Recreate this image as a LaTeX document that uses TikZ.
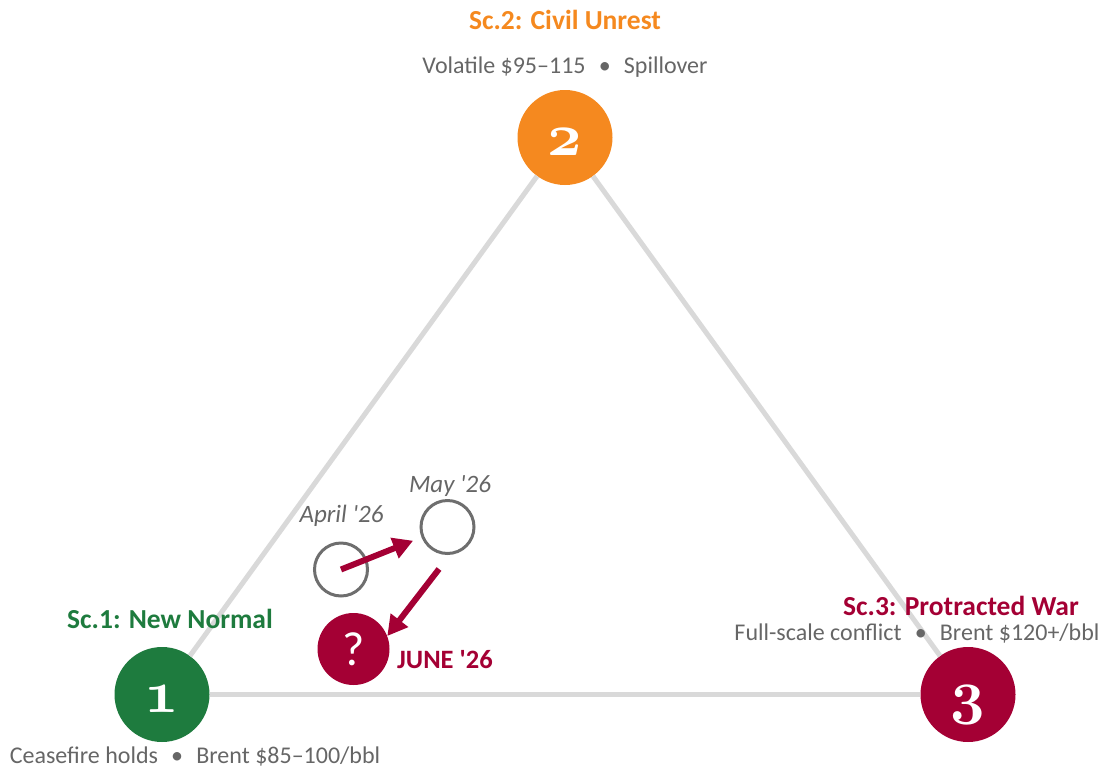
\documentclass[tikz,border=0pt]{standalone}
\usepackage{fontspec}
\setmainfont{Carlito}
\usetikzlibrary{arrows.meta}

% scenario colours
\definecolor{scgreen}{RGB}{30,123,62}
\definecolor{scorange}{RGB}{245,137,31}
\definecolor{sccrimson}{RGB}{164,0,52}
\definecolor{txtgray}{RGB}{102,102,102}
\definecolor{edgegray}{RGB}{217,217,217}
\definecolor{ringgray}{RGB}{110,110,110}

% old-style bold figures for the scenario numbers
\font\bignumfont=cmmib10 at 60pt
\newcommand\sepdot{\hspace{0.55em}\textbullet\hspace{0.55em}}
\newcommand\yr[1]{\textquotesingle#1}

\tikzset{
  scen/.style={circle, minimum size=95pt, inner sep=0pt, text=white,
    font=\bignumfont, text height=35pt, text depth=0pt},
  ring/.style={circle, minimum size=53pt, inner sep=0pt, draw=ringgray, line width=3pt},
  edgeline/.style={draw=edgegray, line width=5pt},
  title/.style={anchor=base, font=\fontsize{27.5}{31}\selectfont\bfseries, inner sep=0pt},
  sub/.style={anchor=base, font=\fontsize{24}{28}\selectfont, text=txtgray, inner sep=0pt},
  month/.style={anchor=base, font=\fontsize{25}{29}\selectfont\itshape, text=txtgray, inner sep=0pt},
  move/.style={draw=sccrimson, line width=6pt, -{Triangle[length=20pt,width=21pt]}}
}

\begin{document}
\begin{tikzpicture}[x=1pt,y=-1pt]
  \useasboundingbox (0,0) rectangle (1102,771);

  % scenario corners
  \node[scen, fill=scgreen]  (s1) at (162,694.5) {1};
  \node[scen, fill=scorange] (s2) at (565,137.5) {2};
  \node[scen, fill=sccrimson] (s3) at (968,694.5) {3};

  % triangle edges
  \draw[edgeline] (s1) -- (s2);
  \draw[edgeline] (s2) -- (s3);
  \draw[edgeline] (s1) -- (s3);

  % scenario labels
  \node[title, text=scorange] (t2) at (565,29) {Sc.2: Civil Unrest};
  \node[sub] (d2) at (565,73) {Volatile \$95–115\sepdot Spillover};
  \node[title, text=scgreen] (t1) at (170,628) {Sc.1: New Normal};
  \node[sub] (d1) at (195,763) {Ceasefire holds\sepdot Brent \$85–100/bbl};
  \node[title, text=sccrimson] (t3) at (961,615) {Sc.3: Protracted War};
  \node[sub] (d3) at (917,640) {Full-scale conflict\sepdot Brent \$120+/bbl};

  % monthly positions
  \node[ring] (apr) at (341,569.5) {};
  \node[ring] (may) at (447.5,527) {};
  \node[circle, minimum size=72pt, inner sep=0pt, fill=sccrimson, text=white,
        font=\fontsize{48}{52}\selectfont] (jun) at (353.5,649) {?};

  \node[month] (aprl) at (341.5,522) {April \yr{26}};
  \node[month] (mayl) at (450,492) {May \yr{26}};
  \node[anchor=base west, inner sep=0pt, text=sccrimson,
        font=\fontsize{26.5}{30}\selectfont\bfseries] (junl) at (397,668) {JUNE \yr{26}};

  % drift between months
  \coordinate (maystart) at (439,569);
  \draw[move, shorten >=9pt] (apr.center) -- (may);
  \draw[move] (maystart) -- (jun.21);
\end{tikzpicture}
\end{document}
